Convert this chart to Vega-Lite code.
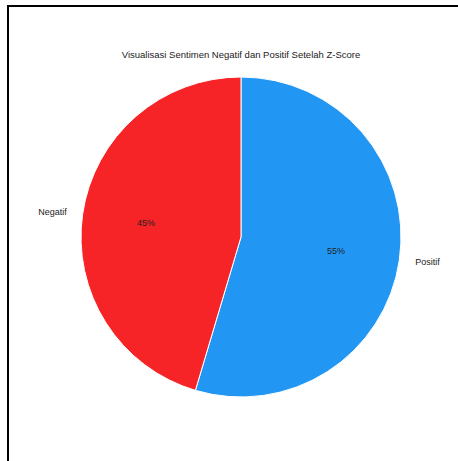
{
  "$schema": "https://vega.github.io/schema/vega-lite/v6.json",
  "width": 466,
  "height": 462,
  "autosize": {"type": "none"},
  "padding": {"left": 8, "top": 6, "right": 0, "bottom": 0},
  "background": "white",
  "view": {"stroke": "black", "strokeWidth": 2},
  "config": {"view": {"stroke": "black", "strokeWidth": 2}},
  "title": {"text": "Visualisasi Sentimen Negatif dan Positif Setelah Z-Score", "font": "Liberation Sans", "fontSize": 9.5, "fontWeight": "normal", "color": "#222222", "anchor": "middle", "frame": "group", "dy": 57},
  "data": {"values": [
    {"sentimen": "Positif", "jumlah": 54.6, "urut": 1, "persen": "55%"},
    {"sentimen": "Negatif", "jumlah": 45.4, "urut": 2, "persen": "45%"}
  ]},
  "encoding": {
    "theta": {"field": "jumlah", "type": "quantitative", "stack": true},
    "order": {"field": "urut", "type": "quantitative"}
  },
  "layer": [
    {
      "mark": {"type": "arc", "outerRadius": 160, "stroke": "white", "strokeWidth": 1},
      "encoding": {
        "color": {"field": "sentimen", "type": "nominal", "scale": {"domain": ["Positif", "Negatif"], "range": ["#2196F3", "#F62426"]}, "legend": null}
      }
    },
    {
      "mark": {"type": "text", "radius": 96, "baseline": "middle", "font": "Liberation Sans", "fontSize": 9, "color": "#222222"},
      "encoding": {"text": {"field": "persen"}}
    },
    {
      "mark": {"type": "text", "radius": 176, "align": "right", "baseline": "middle", "font": "Liberation Sans", "fontSize": 9, "color": "#222222"},
      "encoding": {"text": {"condition": {"test": "datum.sentimen === 'Negatif'", "field": "sentimen"}, "value": ""}}
    },
    {
      "mark": {"type": "text", "radius": 176, "align": "left", "baseline": "middle", "font": "Liberation Sans", "fontSize": 9, "color": "#222222"},
      "encoding": {"text": {"condition": {"test": "datum.sentimen === 'Positif'", "field": "sentimen"}, "value": ""}}
    }
  ]
}
